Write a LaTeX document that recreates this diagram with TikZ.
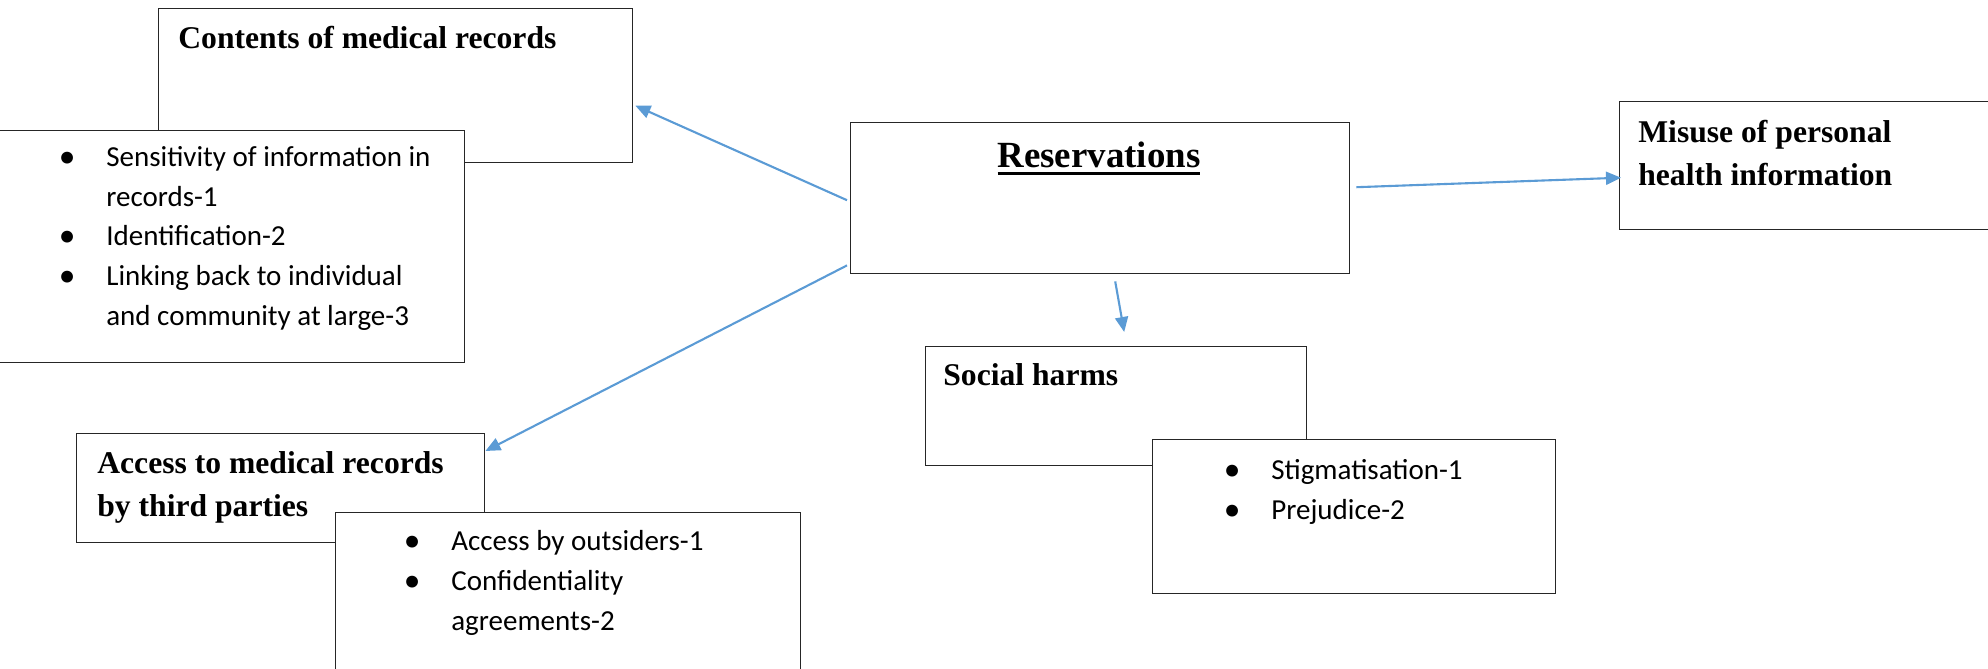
\documentclass[tikz,border=0pt]{standalone}
\usepackage{fontspec}
\setmainfont{Liberation Serif}
\newfontfamily\calibri{Carlito}
\usetikzlibrary{arrows.meta,calc}
\definecolor{wordblue}{RGB}{91,155,213}
\tikzstyle{box} = [draw=black!85, line width=0.8pt, fill=white, inner sep=0pt, anchor=north west]
\tikzstyle{head} = [inner sep=0pt, anchor=base west, align=left, font=\fontsize{18}{24.2}\selectfont\bfseries]
\tikzstyle{items} = [inner sep=0pt, anchor=base west, align=left, font=\calibri\fontsize{16.5}{22.5}\selectfont]
\tikzstyle{arrow} = [line width=1.2pt, draw=wordblue, -{Triangle[length=3mm,width=2.6mm]}]
\newcommand{\bpt}{\makebox[8.2mm][l]{\hspace*{-1.3mm}\raisebox{-0.2mm}{\fontsize{19}{19}\selectfont\textbullet}}}
\newcommand{\bgap}{\hspace*{8.2mm}}
\newcommand{\thickul}[1]{\setbox0\hbox{#1}\makebox[0pt][l]{\rule[-1.5mm]{\wd0}{0.5mm}}\box0}

\begin{document}
\begin{tikzpicture}[x=0.2mm,y=-0.2mm]
		\useasboundingbox (0,0) rectangle (1988,669);

		%Contents (multi-line texts sit on their last baseline)
		\node[box, minimum width=474*0.2mm, minimum height=154*0.2mm] (c_box) at (158,8) {};
		\node[head] (c_title) at (178,49) {Contents of medical records};
		\node[box, minimum width=476*0.2mm, minimum height=232*0.2mm] (c_list) at (-12,130) {};
		\node[items] (c_items) at (65,325) {\bpt Sensitivity of information in\\ \bgap records-1\\ \bpt Identification-2\\ \bpt Linking back to individual\\ \bgap and community at large-3};

		%Reservations
		\node[box, minimum width=499*0.2mm, minimum height=151*0.2mm] (r_box) at (850,122) {};
		\node[head, anchor=base, font=\fontsize{21}{24}\selectfont\bfseries] (r_title) at (1099,167) {\thickul{Reservations}};

		%Misuse
		\node[box, minimum width=400*0.2mm, minimum height=128*0.2mm] (m_box) at (1619,101) {};
		\node[head] (m_title) at (1638,185) {Misuse of personal\\ health information};

		%Social harms
		\node[box, minimum width=381*0.2mm, minimum height=119*0.2mm] (s_box) at (925,346) {};
		\node[head] (s_title) at (943,385) {Social harms};
		\node[box, minimum width=403*0.2mm, minimum height=154*0.2mm] (s_list) at (1152,439) {};
		\node[items] (s_items) at (1230,519) {\bpt Stigmatisation-1\\ \bpt Prejudice-2};

		%Access
		\node[box, minimum width=408*0.2mm, minimum height=109*0.2mm] (a_box) at (76,433) {};
		\node[head] (a_title) at (97,516) {Access to medical records\\ by third parties};
		\node[box, minimum width=465*0.2mm, minimum height=180*0.2mm] (a_list) at (335,512) {};
		\node[items] (a_items) at (410,630) {\bpt Access by outsiders-1\\ \bpt Confidentiality\\ \bgap agreements-2};

		%connections
		\draw[arrow] ($(r_box.west)+(-3,2)$) -- ($(c_box.east)+(2,20)$);
		\draw[arrow] ($(r_box.south west)+(-3,-9)$) -- ($(a_box.north east)+(0,18)$);
		\draw[arrow] ($(r_box.south)+(15,7)$) -- ($(s_box.north)+(8,-14)$);
		\draw[arrow] ($(r_box.east)+(6,-11)$) -- ($(m_box.west)+(2,12)$);

	\end{tikzpicture}
\end{document}
